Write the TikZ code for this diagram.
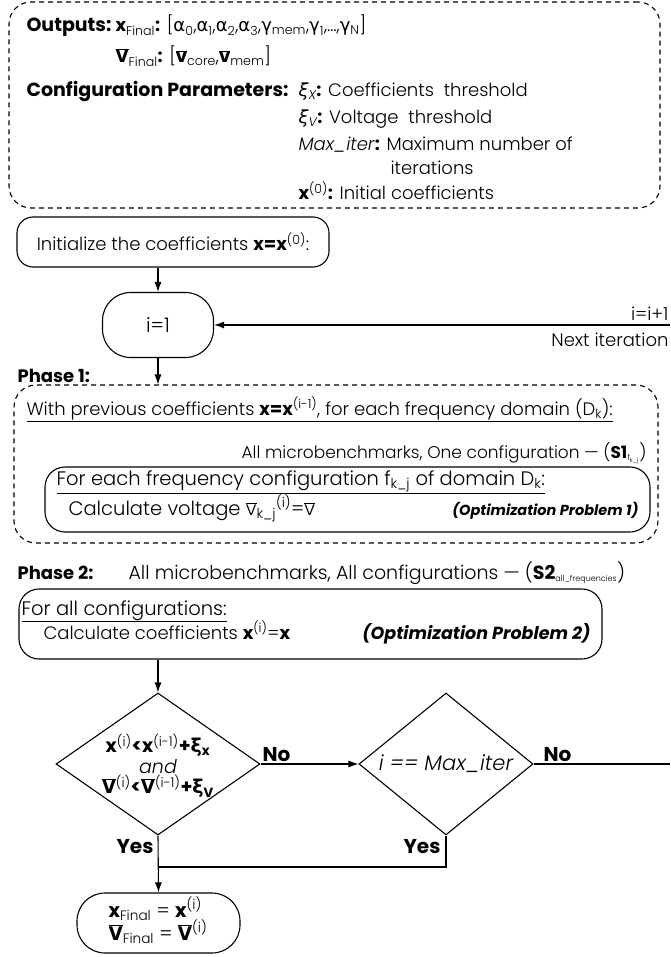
\documentclass[tikz,border=0pt]{standalone}
\usepackage{fontspec}
\setmainfont{Poppins Light}[BoldFont={Poppins Bold}, ItalicFont={Poppins Light Italic}, BoldItalicFont={Poppins Bold Italic}]
\newfontfamily\grk{DejaVu Sans}
\usetikzlibrary{shapes.geometric,arrows.meta}
\newcommand\myovl[1]{\ensuremath{\overline{\mbox{#1}}}}
\newcommand\tinysub[1]{\textsubscript{\fontsize{8}{9}\selectfont #1}}
\begin{document}
\begin{tikzpicture}[x=1pt,y=-1pt, line width=1.1pt,
  txt/.style={inner sep=0pt, font=\fontsize{18}{20}\selectfont},
  tbig/.style={inner sep=0pt, font=\fontsize{19.5}{22}\selectfont},
  tbold/.style={inner sep=0pt, font=\fontsize{19}{21}\selectfont\bfseries},
  tlab/.style={inner sep=0pt, font=\fontsize{20}{22}\selectfont\bfseries},
  tphase/.style={inner sep=0pt, font=\fontsize{18}{20}\selectfont\bfseries},
  tsmall/.style={inner sep=0pt, font=\fontsize{17}{19}\selectfont},
  topt/.style={inner sep=0pt, font=\fontsize{#1}{17}\selectfont\bfseries\itshape},
  rbox/.style={draw, rounded corners=#1, inner sep=0pt},
  dbox/.style={draw, dash pattern=on 5pt off 4pt, rounded corners=22pt, inner sep=0pt},
  arr/.style={-{Latex[length=10pt,width=7pt]}},
]
\useasboundingbox (0,0) rectangle (670,957);

% ---------- top box ----------
\node[dbox, minimum width=651pt, minimum height=206pt] (top) at (334.5,105) {};
\node[tbold, anchor=base west] (outl) at (26,32) {Outputs:};
\node[txt, anchor=base west] (xf) at (115,32) {\textbf{x}\textsubscript{Final}\textbf{:} [{\grk α}\textsubscript{0},{\grk α}\textsubscript{1},{\grk α}\textsubscript{2},{\grk α}\textsubscript{3},{\grk γ}\textsubscript{mem},{\grk γ}\textsubscript{1},\dots,{\grk γ}\textsubscript{N}]};
\node[txt, anchor=base west] (vf) at (115,63) {\textbf{\myovl{V}}\textsubscript{Final}\textbf{:} [\textbf{\myovl{v}}\textsubscript{core},\textbf{\myovl{v}}\textsubscript{mem}]};
\node[tbold, anchor=base west] (cfg) at (26,97) {Configuration Parameters:};
\node[txt, anchor=base west] (px) at (298,97) {{\grk\itshape ξ}\textsubscript{\itshape X}\textbf{:} Coefficients\ \ threshold};
\node[txt, anchor=base west] (pv) at (298,124) {{\grk\itshape ξ}\textsubscript{\itshape V}\textbf{:} Voltage\ \ threshold};
\node[txt, anchor=base west] (pm) at (298,151) {\textit{Max\_iter}\textbf{:} Maximum number of};
\node[txt, anchor=base west] (pm2) at (390,175) {iterations};
\node[txt, anchor=base west] (p0) at (298,200) {\textbf{x}\textsuperscript{(0)}\textbf{:} Initial coefficients};

% ---------- init ----------
\node[rbox=16pt, txt, minimum width=312pt, minimum height=50pt] (init) at (173,242) {Initialize the coefficients \textbf{x=x}\textsuperscript{(0)}:};

% ---------- i=1 ----------
\node[rbox=28pt, txt, font=\fontsize{20}{22}\selectfont, minimum width=111pt, minimum height=65pt] (i1) at (158,325) {i=1};
\coordinate (fbR) at (670,325);
\draw[arr] (fbR) -- (i1.east);
\node[txt, anchor=base east] (incr) at (669,320) {i=i+1};
\node[txt, anchor=base east] (nxt) at (669,346) {Next iteration};
\draw[arr] (i1.north |- init.south) -- (i1.north);

% ---------- phase 1 ----------
\node[tphase, anchor=base west] (ph1) at (17,382) {Phase 1:};
\node[dbox, minimum width=644pt, minimum height=158pt] (p1) at (336,464) {};
\draw[arr] (i1.south) -- (i1.south |- p1.north);
\node[txt, anchor=base west] (p1t) at (26,415) {\underline{With previous coefficients \textbf{x=x}\textsuperscript{(i-1)}, for each frequency domain (D\textsubscript{k}):}};
\node[tsmall, anchor=base east] (s1) at (647,458) {All microbenchmarks, One configuration --- (\textbf{S1}\tinysub{f\textsubscript{k\_j}})};
\node[rbox=20pt, minimum width=605pt, minimum height=65pt] (inner) at (347.5,499.5) {};
\node[tbig, anchor=base west] (in1) at (56,485) {\underline{For each frequency configuration f\textsubscript{k\_j} of domain D\textsubscript{k}:}};
\node[tbig, anchor=base west] (in2) at (68,515) {Calculate voltage \myovl{v}\textsubscript{k\_j}\textsuperscript{(i)}=\myovl{v}};
\node[topt=14.5, anchor=base east] (op1) at (639,515) {(Optimization Problem 1)};

% ---------- phase 2 ----------
\node[tphase, anchor=base west] (ph2) at (17,579) {Phase 2:};
\node[tbig, anchor=base west, font=\fontsize{19}{21}\selectfont] (s2) at (128,579) {All microbenchmarks, All configurations --- (\textbf{S2}\tinysub{all\_frequencies})};
\node[rbox=20pt, minimum width=583pt, minimum height=70pt] (p2) at (310.5,624) {};
\node[tbig, anchor=base west] (p2a) at (21,615) {\underline{For all configurations:}};
\node[txt, anchor=base west] (p2b) at (43,639) {Calculate coefficients \textbf{x}\textsuperscript{(i)}=\textbf{x}};
\node[topt=17.5, anchor=base east] (op2) at (591,639) {(Optimization Problem 2)};

% ---------- decisions ----------
\node[draw, diamond, inner sep=0pt, minimum width=204pt, minimum height=142pt] (d1) at (158,764) {};
\node[txt, align=center, font=\fontsize{19}{20.5}\selectfont] (d1t) at (158,766) {\textbf{x}\textsuperscript{(i)}\textbf{<x}\textsuperscript{(i-1)}\textbf{+}{\grk\bfseries ξ}\textsubscript{\bfseries x}\\ \textit{and}\\ \textbf{\myovl{V}}\textsuperscript{(i)}\textbf{<\myovl{V}}\textsuperscript{(i-1)}\textbf{+}{\grk\bfseries ξ}\textsubscript{\bfseries V}};
\node[draw, diamond, inner sep=0pt, minimum width=174pt, minimum height=142pt] (d2) at (446,764) {};
\node[txt, font=\fontsize{21}{23}\selectfont\itshape] (d2t) at (446,764) {i == Max\_iter};
\draw[arr] (p2.south -| d1.north) -- (d1.north);
\draw[arr] (d1.east) -- (d2.west);
\node[tlab, anchor=base west] (no1) at (262,761) {No};
\coordinate (noR) at (670,764);
\draw (d2.east) -- (noR);
\node[tlab, anchor=base west] (no2) at (543,761) {No};

% ---------- final ----------
\node[rbox=28pt, minimum width=163pt, minimum height=60pt] (fin) at (158.5,923) {};
\node[txt, anchor=base west, font=\fontsize{19.5}{22}\selectfont] (f1) at (108,917) {\textbf{x}\textsubscript{Final} = \textbf{x}\textsuperscript{(i)}};
\node[txt, anchor=base west, font=\fontsize{19.5}{22}\selectfont] (f2) at (108,940) {\textbf{\myovl{V}}\textsubscript{Final} = \textbf{\myovl{V}}\textsuperscript{(i)}};
\draw[arr] (d1.south) -- (fin.north);
\coordinate (join) at (158,867);
\draw (d2.south) |- (join);
\node[tlab, anchor=base east] (yes1) at (154,853) {Yes};
\node[tlab, anchor=base east] (yes2) at (441,853) {Yes};
\end{tikzpicture}
\end{document}
